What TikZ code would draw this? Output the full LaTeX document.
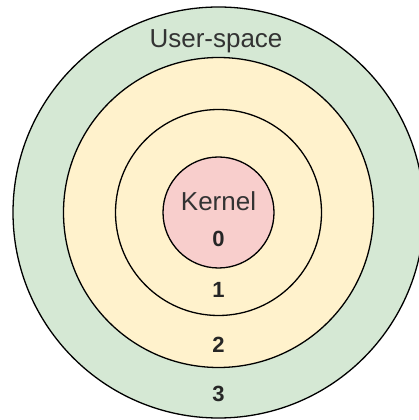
\documentclass[tikz,border=0pt]{standalone}
\usepackage{fontspec}
\setmainfont{Liberation Sans}
\usetikzlibrary{positioning}
\definecolor{userGreen}{HTML}{D5E8D4}
\definecolor{ringYellow}{HTML}{FFF2CC}
\definecolor{kernelPink}{HTML}{F8CECC}
\definecolor{labelGrey}{HTML}{333333}

\begin{document}
\begin{tikzpicture}[
			x=1pt, y=1pt, line width=1.3pt,
			ring/.style={circle, draw=black, inner sep=0pt},
			ringlabel/.style={anchor=base, text=black!85, font=\fontsize{22}{24}\selectfont\bfseries},
			namelabel/.style={anchor=base, text=labelGrey, font=\fontsize{26}{29}\selectfont}
			]
			\useasboundingbox (0,0) rectangle (418,420);
			\node[ring, fill=userGreen, minimum size=411] (ring3) at (218.5,207.5) {};
			\node[ring, fill=ringYellow, minimum size=310] (ring2) at (ring3.center) {};
			\node[ring, fill=ringYellow, minimum size=206] (ring1) at (ring3.center) {};
			\node[ring, fill=kernelPink, minimum size=111] (kernel) at (ring3.center) {};
			\node[namelabel] (userspace) at (216,372) {User-space};
			\node[namelabel] (kernelname) at (218.5,209) {Kernel};
			\node[ringlabel] (level0) at (218.5,173) {0};
			\node[ringlabel] (level1) at (218.5,122) {1};
			\node[ringlabel] (level2) at (218.5,67) {2};
			\node[ringlabel] (level3) at (218.5,18) {3};
		\end{tikzpicture}
\end{document}
